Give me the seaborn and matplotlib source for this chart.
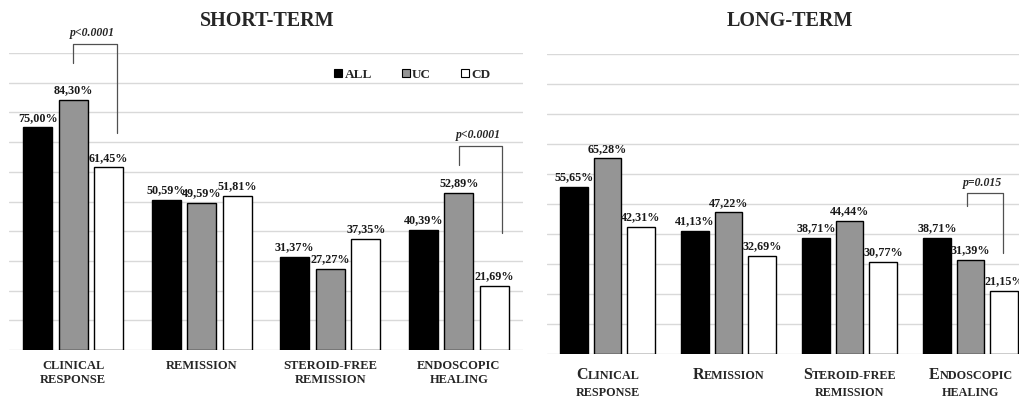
import numpy as np
import pandas as pd

import matplotlib
matplotlib.use("Agg")
import matplotlib.pyplot as plt
from matplotlib.lines import Line2D
import seaborn as sns

# ======================================================
# DATA
# ======================================================

CATEGORIES = ["CLINICAL\nRESPONSE", "REMISSION", "STEROID-FREE\nREMISSION", "ENDOSCOPIC\nHEALING"]
GROUPS = ["ALL", "UC", "CD"]

SHORT_ALL = [75.00, 50.59, 31.37, 40.39]
SHORT_UC = [84.30, 49.59, 27.27, 52.89]
SHORT_CD = [61.45, 51.81, 37.35, 21.69]

LONG_ALL = [55.65, 41.13, 38.71, 38.71]
LONG_UC = [65.28, 47.22, 44.44, 31.39]
LONG_CD = [42.31, 32.69, 30.77, 21.15]

# small caps labels of the long-term panel: (first letter, rest of line 1, line 2)
LONG_LABELS = [("C", "LINICAL", "RESPONSE"), ("R", "EMISSION", ""),
               ("S", "TEROID-FREE", "REMISSION"), ("E", "NDOSCOPIC", "HEALING")]

# ======================================================
# CONFIGURATION
# ======================================================

sns.set_theme(style="white")
plt.rcParams["font.family"] = ["Liberation Serif", "DejaVu Serif"]

PALETTE = {"ALL": "#000000", "UC": "#959595", "CD": "#ffffff"}
GRID = "#d9d9d9"
BRACKET = "#505050"

W, H = 1019, 397
fig = plt.figure(figsize=(W / 100, H / 100), dpi=100)

ax_s = fig.add_axes([9 / W, (H - 350) / H, (523 - 9) / W, (350 - 53) / H])
ax_l = fig.add_axes([547 / W, (H - 354) / H, (W - 547) / W, (354 - 54) / H])


def make_frame(all_v, uc_v, cd_v):
    rows = []
    for group, values in zip(GROUPS, [all_v, uc_v, cd_v]):
        for cat, v in zip(CATEGORIES, values):
            rows.append({"category": cat, "group": group, "value": v})
    return pd.DataFrame(rows)


def draw_panel(ax, df):
    sns.barplot(
        data=df, x="category", y="value", hue="group",
        order=CATEGORIES, hue_order=GROUPS, palette=PALETTE,
        width=0.83, gap=0.18, edgecolor="black", linewidth=1,
        legend=False, ax=ax,
    )
    ax.set_ylim(0, 100)
    ax.set_yticks(np.arange(0, 101, 10))
    ax.yaxis.grid(True, color=GRID, lw=1)
    ax.set_axisbelow(True)
    ax.tick_params(axis="y", length=0, labelleft=False)
    ax.tick_params(axis="x", length=0)
    for s in ax.spines.values():
        s.set_visible(False)
    ax.set_xlabel("")
    ax.set_ylabel("")
    for cont, group in zip(ax.containers, GROUPS):
        vals = df[df["group"] == group]["value"].tolist()
        labels = [f"{v:.2f}%".replace(".", ",") for v in vals]
        ax.bar_label(cont, labels=labels, padding=2.5, fontsize=8.7,
                     fontweight="bold", color="#1a1a1a")


def bracket(ax, x0, x1, top, y0, y1, text, ty):
    ax.plot([x0, x0, x1, x1], [y0, top, top, y1], color=BRACKET, lw=0.9,
            clip_on=False, zorder=5)
    ax.text((x0 + x1) / 2 - 0.02, ty, text, ha="center", va="center",
            fontsize=8.5, fontweight="bold", fontstyle="italic", clip_on=False)


# ======================================================
# SHORT-TERM
# ======================================================

draw_panel(ax_s, make_frame(SHORT_ALL, SHORT_UC, SHORT_CD))
ax_s.set_xlim(-0.5, 3.5)
ax_s.set_xticks(range(4))
ax_s.set_xticklabels(CATEGORIES, fontsize=9, fontweight="bold")
ax_s.tick_params(axis="x", pad=7.5)

bracket(ax_s, 0.0, 0.34, 103.0, 96.6, 73.0, "p<0.0001", 106.7)
bracket(ax_s, 3.0, 3.34, 68.8, 62.4, 39.3, "p<0.0001", 72.5)

handles = [Line2D([], [], marker="s", ls="", markersize=6,
                  markerfacecolor=PALETTE[g], markeredgecolor="black",
                  markeredgewidth=0.8) for g in GROUPS]
ax_s.legend(handles, GROUPS, ncol=3, frameon=False, loc="center right",
            bbox_to_anchor=(0.96, 0.926), handlelength=0.7,
            handletextpad=0.15, columnspacing=2.2,
            prop={"weight": "bold", "size": 9.5})

fig.text(267 / W, 1 - 21 / H, "SHORT-TERM", ha="center", va="center",
         fontsize=14.5, fontweight="bold")

# ======================================================
# LONG-TERM
# ======================================================

draw_panel(ax_l, make_frame(LONG_ALL, LONG_UC, LONG_CD))
ax_l.set_xlim(-0.5, 3.4)
ax_l.set_xticks(range(4))
ax_l.set_xticklabels([""] * 4)

bracket(ax_l, 2.97, 3.27, 53.7, 49.3, 33.7, "p=0.015", 57.0)

fig.text(790 / W, 1 - 21 / H, "LONG-TERM", ha="center", va="center",
         fontsize=14.5, fontweight="bold")

renderer = fig.canvas.get_renderer()
PT = 72 / 100
for i, (first, rest, second) in enumerate(LONG_LABELS):
    kw = dict(xycoords=("data", "axes fraction"), textcoords="offset points",
              va="baseline", fontweight="bold", annotation_clip=False)
    t1 = ax_l.annotate(first, xy=(i, 0), xytext=(0, -25 * PT), fontsize=11.5,
                       ha="right", **kw)
    t2 = ax_l.annotate(rest, xy=(i, 0), xytext=(0, -25 * PT), fontsize=8.7,
                       ha="left", **kw)
    w1 = t1.get_window_extent(renderer).width
    w2 = t2.get_window_extent(renderer).width
    dx = (w1 - w2) / 2 * PT
    t1.set_position((dx, -25 * PT))
    t2.set_position((dx, -25 * PT))
    if second:
        ax_l.annotate(second, xy=(i, 0), xytext=(0, -42 * PT), fontsize=8.7,
                      ha="center", **kw)

fig.savefig("out.png", dpi=100)
